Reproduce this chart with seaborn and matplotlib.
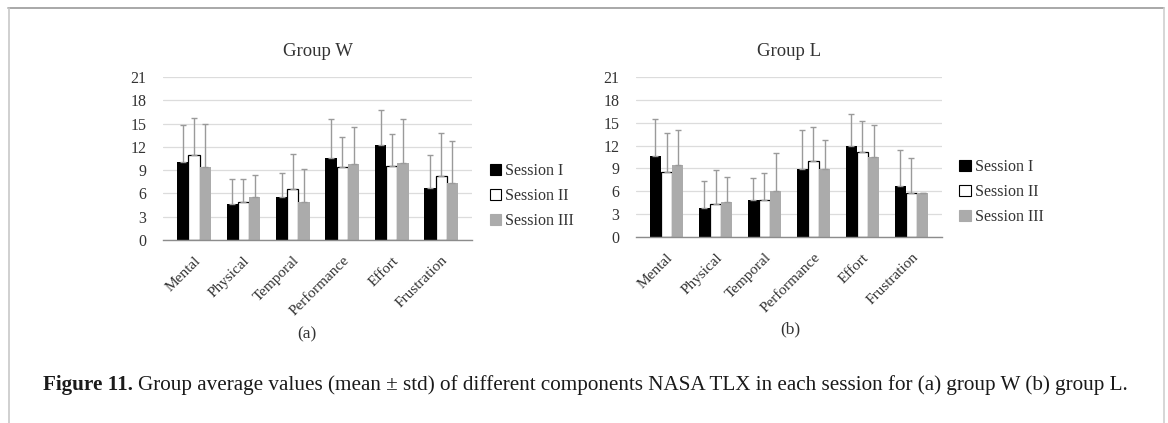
import numpy as np
import pandas as pd
import seaborn as sns
import matplotlib.pyplot as plt
from matplotlib.lines import Line2D
from matplotlib.patches import Patch


COMPONENTS = ["Mental", "Physical", "Temporal", "Performance", "Effort", "Frustration"]
SESSIONS = ["Session I", "Session II", "Session III"]

# group W: mean and std (error bar drawn upward only)
W_S1_MEAN = [10.0, 4.7, 5.6, 10.6, 12.3, 6.7]
W_S2_MEAN = [10.9, 4.9, 6.6, 9.4, 9.6, 8.2]
W_S3_MEAN = [9.4, 5.5, 4.9, 9.8, 9.9, 7.4]
W_S1_STD = [4.8, 3.1, 3.0, 5.0, 4.4, 4.3]
W_S2_STD = [4.8, 2.9, 4.5, 3.85, 4.1, 5.6]
W_S3_STD = [5.6, 2.9, 4.2, 4.8, 5.7, 5.3]

# group L
L_S1_MEAN = [10.6, 3.8, 4.9, 8.9, 11.9, 6.7]
L_S2_MEAN = [8.6, 4.4, 4.9, 10.0, 11.1, 5.8]
L_S3_MEAN = [9.45, 4.55, 6.05, 8.95, 10.5, 5.8]
L_S1_STD = [4.9, 3.6, 2.9, 5.1, 4.3, 4.7]
L_S2_STD = [5.05, 4.4, 3.55, 4.5, 4.2, 4.6]
L_S3_STD = [4.55, 3.35, 4.95, 3.75, 4.2, 0.0]

COLORS = ["#000000", "#ffffff", "#ababab"]
ERR_COLOR = "#9a9a9a"
SERIF = ["Liberation Serif", "DejaVu Serif"]


def make_frame(means, stds):
    rows = []
    for s, m_list, s_list in zip(SESSIONS, means, stds):
        for c, m, sd in zip(COMPONENTS, m_list, s_list):
            rows.append({"component": c, "session": s, "mean": m, "std": sd})
    return pd.DataFrame(rows)


def draw_panel(ax, df, title, label, label_x, legend_anchor):
    sns.barplot(
        data=df, x="component", y="mean", hue="session",
        hue_order=SESSIONS, order=COMPONENTS, palette=COLORS,
        width=0.68, errorbar=None, ax=ax, legend=False,
        saturation=1, linewidth=0,
    )
    for container, sess in zip(ax.containers, SESSIONS):
        sub = df[df["session"] == sess].set_index("component").loc[COMPONENTS]
        xs = [p.get_x() + p.get_width() / 2 for p in container.patches]
        if sess == "Session II":
            for p in container.patches:
                p.set_edgecolor("black")
                p.set_linewidth(0.9)
        ax.errorbar(
            xs, sub["mean"].values,
            yerr=[np.zeros(len(xs)), sub["std"].values],
            fmt="none", ecolor=ERR_COLOR, elinewidth=1.0,
            capsize=2.5, capthick=1.0, zorder=1,
        )

    ax.set_ylim(0, 21)
    ax.set_yticks(np.arange(0, 22, 3))
    ax.yaxis.grid(True, color="#dcdcdc", linewidth=0.9)
    ax.set_axisbelow(True)
    for side in ["top", "right", "left"]:
        ax.spines[side].set_visible(False)
    ax.spines["bottom"].set_color("#8c8c8c")
    ax.spines["bottom"].set_linewidth(1.0)
    ax.tick_params(axis="both", length=0, colors="#333333")
    ax.tick_params(axis="y", pad=12, labelsize=11.5)
    ax.set_xlabel("")
    ax.set_ylabel("")
    for t in ax.get_yticklabels():
        t.set_family(SERIF)
    ax.set_xticks(range(len(COMPONENTS)))
    ax.set_xticklabels(COMPONENTS, rotation=45, ha="right",
                       rotation_mode="anchor", fontsize=11, family=SERIF,
                       color="#333333")
    ax.tick_params(axis="x", pad=10)
    ax.set_title(title, fontsize=13.5, family=SERIF, color="#333333", pad=15)
    ax.text(label_x, -0.58, label, transform=ax.transAxes, ha="center",
            va="center", fontsize=12.5, family=SERIF, color="#333333")

    handles = [
        Patch(facecolor=COLORS[0], edgecolor="black", linewidth=0.8),
        Patch(facecolor=COLORS[1], edgecolor="black", linewidth=0.8),
        Patch(facecolor=COLORS[2], edgecolor=COLORS[2], linewidth=0.8),
    ]
    ax.legend(handles, SESSIONS, loc="center left", bbox_to_anchor=legend_anchor,
              frameon=False, handlelength=0.7, handleheight=0.7,
              handletextpad=0.25, labelspacing=0.55,
              prop={"family": SERIF, "size": 11.5}, labelcolor="#333333")


def main():
    sns.set_theme(style="white")
    plt.rcParams["font.family"] = SERIF

    fig = plt.figure(figsize=(11.68, 4.23), dpi=100)
    ax_w = fig.add_axes([0.1396, 0.4326, 0.2646, 0.3853])
    ax_l = fig.add_axes([0.5445, 0.4397, 0.2620, 0.3780])

    df_w = make_frame([W_S1_MEAN, W_S2_MEAN, W_S3_MEAN], [W_S1_STD, W_S2_STD, W_S3_STD])
    df_l = make_frame([L_S1_MEAN, L_S2_MEAN, L_S3_MEAN], [L_S1_STD, L_S2_STD, L_S3_STD])

    draw_panel(ax_w, df_w, "Group W", "(a)", 0.466, (1.01, 0.27))
    draw_panel(ax_l, df_l, "Group L", "(b)", 0.503, (1.01, 0.28))

    # page frame lines
    fig.add_artist(Line2D([8 / 1168, 1164 / 1168], [1 - 8 / 423, 1 - 8 / 423],
                          transform=fig.transFigure, color="#9a9a9a", linewidth=1.2))
    fig.add_artist(Line2D([8.5 / 1168, 8.5 / 1168], [0, 1 - 8 / 423],
                          transform=fig.transFigure, color="#c8c8c8", linewidth=1.2))
    fig.add_artist(Line2D([1164 / 1168, 1164 / 1168], [0, 1 - 8 / 423],
                          transform=fig.transFigure, color="#cfcfcf", linewidth=1.2))

    # caption: bold lead, then regular text right after it
    cap_y = 1 - 385 / 423
    bold = fig.text(43 / 1168, cap_y, "Figure 11.", fontsize=15.2, fontweight="bold",
                    family=SERIF, va="center", ha="left", color="#1a1a1a")
    fig.canvas.draw()
    bb = bold.get_window_extent(renderer=fig.canvas.get_renderer())
    x_next = (bb.x1 + 5) / fig.bbox.width
    fig.text(x_next, cap_y,
             "Group average values (mean \u00b1 std) of different components NASA TLX "
             "in each session for (a) group W (b) group L.",
             fontsize=15.2, family=SERIF, va="center", ha="left", color="#1a1a1a")

    fig.savefig("out.png", dpi=100)
    plt.close(fig)


if __name__ == "__main__":
    main()
